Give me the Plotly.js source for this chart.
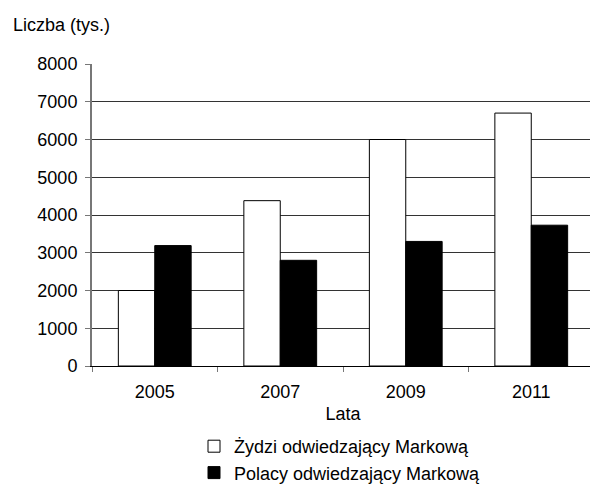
<!DOCTYPE html>
<html>
<head>
<meta charset="utf-8">
<script src="https://cdn.plot.ly/plotly-3.0.1.min.js"></script>
<style>
html,body{margin:0;padding:0;overflow:hidden;background:#fff;width:590px;height:484px;}
#chart{width:600px;height:510px;}
</style>
</head>
<body>
<div id="chart"></div>
<script>
const years = ['2005', '2007', '2009', '2011'];
const jewsVisiting = [2000, 4380, 6000, 6700];
const polesVisiting = [3190, 2800, 3300, 3730];
const seriesNames = ['Żydzi odwiedzający Markową', 'Polacy odwiedzający Markową'];
const yTickValues = [0, 1000, 2000, 3000, 4000, 5000, 6000, 7000, 8000];
const yAxisLabel = 'Liczba (tys.)';
const xAxisLabel = 'Lata';

const FONT = '"Liberation Sans", Arial, sans-serif';
const FS = 18;
const W = 600, H = 510, L = 92, R = 6, T = 64, B = H - 366;
const PW = W - L - R, PH = H - T - B;

const traces = [
  {
    type: 'bar', name: seriesNames[0], x: years, y: jewsVisiting,
    marker: {color: '#ffffff', line: {color: '#000000', width: 1}},
    hoverinfo: 'x+y'
  },
  {
    type: 'bar', name: seriesNames[1], x: years, y: polesVisiting,
    marker: {color: '#000000', line: {color: '#000000', width: 1}},
    hoverinfo: 'x+y'
  }
];

const layout = {
  width: W, height: H,
  margin: {l: L, r: R, t: T, b: B, pad: 0},
  paper_bgcolor: '#ffffff', plot_bgcolor: '#ffffff',
  font: {family: FONT, size: FS, color: '#000000'},
  barmode: 'group', bargap: 0.42, bargroupgap: 0,
  showlegend: true,
  legend: {
    orientation: 'v', xref: 'paper', yref: 'paper',
    x: (194 - L) / PW, xanchor: 'left', y: (H - B - 428) / PH, yanchor: 'top',
    font: {family: FONT, size: FS, color: '#000000'},
    bgcolor: 'rgba(0,0,0,0)', borderwidth: 0,
    itemwidth: 30, tracegroupgap: 0
  },
  xaxis: {
    type: 'category', categoryorder: 'array', categoryarray: years,
    showgrid: false, zeroline: false,
    showline: true, linecolor: '#000000', linewidth: 1,
    ticks: 'outside', tickson: 'boundaries', ticklen: 5, tickwidth: 1, tickcolor: '#777777',
    tickfont: {family: FONT, size: FS, color: '#000000'},
    tickangle: 0, ticklabelstandoff: 9,
    title: {text: xAxisLabel, font: {family: FONT, size: FS, color: '#000000'}, standoff: 6},
    fixedrange: true
  },
  yaxis: {
    range: [0, 8000], tickmode: 'array', tickvals: yTickValues,
    ticktext: yTickValues.map(String),
    showgrid: true, gridcolor: '#333333', gridwidth: 1,
    zeroline: false,
    showline: true, linecolor: '#777777', linewidth: 2,
    ticks: 'outside', ticklen: 5, tickwidth: 1, tickcolor: '#777777',
    tickfont: {family: FONT, size: FS, color: '#000000'},
    ticklabelstandoff: 4,
    fixedrange: true
  },
  annotations: [
    {
      text: yAxisLabel, xref: 'paper', yref: 'paper',
      x: (11 - L) / PW, xanchor: 'left', y: (H - B - 13) / PH, yanchor: 'top',
      showarrow: false, font: {family: FONT, size: FS, color: '#000000'}
    }
  ]
};

Plotly.newPlot('chart', traces, layout, {displayModeBar: false, staticPlot: true});
</script>
</body>
</html>
